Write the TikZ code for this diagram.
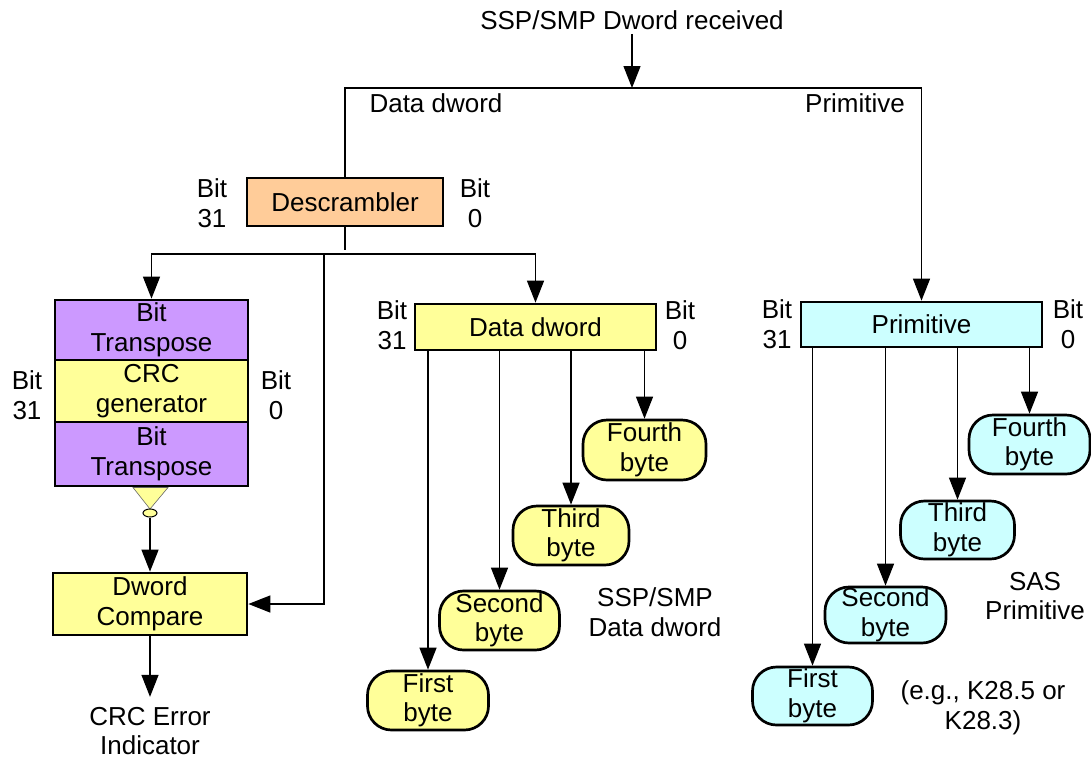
\documentclass[tikz,border=0pt]{standalone}
\usepackage{fontspec}
\setmainfont{Liberation Sans}
\usetikzlibrary{arrows.meta,shapes.geometric}
\definecolor{peach}{HTML}{FFCC99}
\definecolor{lilac}{HTML}{CC99FF}
\definecolor{lemon}{HTML}{FFFF99}
\definecolor{icecyan}{HTML}{CCFFFF}
\tikzset{
  conn/.style={line width=1.3pt},
  arr/.style={conn, -{Triangle[length=22pt,width=17pt]}},
  blk/.style={draw, line width=2.7pt, inner sep=0pt, align=center},
  bytebox/.style={draw, line width=2.7pt, rounded corners=24pt, inner sep=0pt, align=center},
  lbl/.style={align=center, inner sep=0pt},
}
\begin{document}
\begin{tikzpicture}[x=1pt,y=-1pt,font=\fontsize{26}{29.5}\selectfont]
\useasboundingbox (0,0) rectangle (1091,761);

% top
\node[lbl] (top) at (632,20) {SSP/SMP Dword received};
\coordinate (j0) at (632,88);
\node[lbl] (ldd) at (436,103) {Data dword};
\node[lbl] (lpr) at (855,103) {Primitive};

% descrambler
\node[blk, fill=peach, minimum width=196, minimum height=48] (desc) at (345,202) {Descrambler};
\node[lbl] (d31) at (212,203) {Bit\\31};
\node[lbl] (d0) at (475,203) {Bit\\0};

% left stack
\node[blk, fill=lilac, minimum width=193, minimum height=60] (bt1) at (151.5,330) {Bit\\Transpose};
\node[blk, fill=lemon, minimum width=193, minimum height=62] (crc) at (151.5,391) {CRC\\generator};
\node[blk, fill=lilac, minimum width=193, minimum height=64] (bt2) at (151.5,454) {Bit\\Transpose};
\node[lbl] (s31) at (27,395) {Bit\\31};
\node[lbl] (s0) at (276,395) {Bit\\0};

\filldraw[fill=lemon, draw=black!60, line width=0.6pt] (133,487.5) -- (168,487.5) -- (150,509) -- cycle;
\node[draw, fill=lemon, ellipse, line width=1pt, minimum width=14, minimum height=8, inner sep=0pt] (inv) at (150,513) {};

\node[blk, fill=lemon, minimum width=194, minimum height=62] (dc) at (150,604) {Dword\\Compare};
\node[lbl] (err) at (150,731) {CRC Error\\Indicator};

% data dword
\node[blk, fill=lemon, minimum width=241, minimum height=46] (dd) at (535.5,327) {Data dword};
\node[lbl] (dd31) at (392,325) {Bit\\31};
\node[lbl] (dd0) at (680,325) {Bit\\0};

\node[bytebox, fill=lemon, minimum width=123, minimum height=60] (y4) at (644.5,450) {Fourth\\byte};
\node[bytebox, fill=lemon, minimum width=116, minimum height=59] (y3) at (571,535.5) {Third\\byte};
\node[bytebox, fill=lemon, minimum width=120, minimum height=59] (y2) at (499.5,620.5) {Second\\byte};
\node[bytebox, fill=lemon, minimum width=121, minimum height=59] (y1) at (428,700.5) {First\\byte};
\node[lbl] (ssp) at (655,612) {SSP/SMP\\Data dword};

% primitive
\node[blk, fill=icecyan, minimum width=241, minimum height=45] (pr) at (921.5,324.5) {Primitive};
\node[lbl] (p31) at (777,324) {Bit\\31};
\node[lbl] (p0) at (1068,324) {Bit\\0};

\node[bytebox, fill=icecyan, minimum width=121, minimum height=59] (c4) at (1029.5,444.5) {Fourth\\byte};
\node[bytebox, fill=icecyan, minimum width=114, minimum height=58] (c3) at (957.5,530) {Third\\byte};
\node[bytebox, fill=icecyan, minimum width=121, minimum height=56] (c2) at (885.5,615) {Second\\byte};
\node[bytebox, fill=icecyan, minimum width=120, minimum height=58] (c1) at (812.5,696) {First\\byte};
\node[lbl] (sas) at (1035,596) {SAS\\Primitive};
\node[lbl] (eg) at (983,708) {(e.g., K28.5 or\\K28.3)};

% connectors
\draw[arr] (top.south) ++(0,4) coordinate (t0) (t0) -- (j0);
\draw[conn] (j0) -- (desc.north |- j0) -- (desc.north);
\draw[arr] (j0) -- (pr.north |- j0) -- (pr.north);

\coordinate (j1) at (345,254);
\coordinate (j2) at (324,254);
\draw[conn] (desc.south) -- ([yshift=4]j1);
\draw[arr] (j1) -| (bt1.north);
\draw[arr] (j1) -| (dd.north);
\draw[arr] (j2) |- (dc.east);

\draw[arr] (inv.south) -- (dc.north);
\draw[arr, shorten >=10pt] (dc.south) -- (err.north);

\foreach \b in {y1,y2,y3,y4} \draw[arr] (dd.south -| \b.north) -- (\b.north);
\foreach \b in {c1,c2,c3,c4} \draw[arr] (pr.south -| \b.north) -- (\b.north);
\end{tikzpicture}
\end{document}
